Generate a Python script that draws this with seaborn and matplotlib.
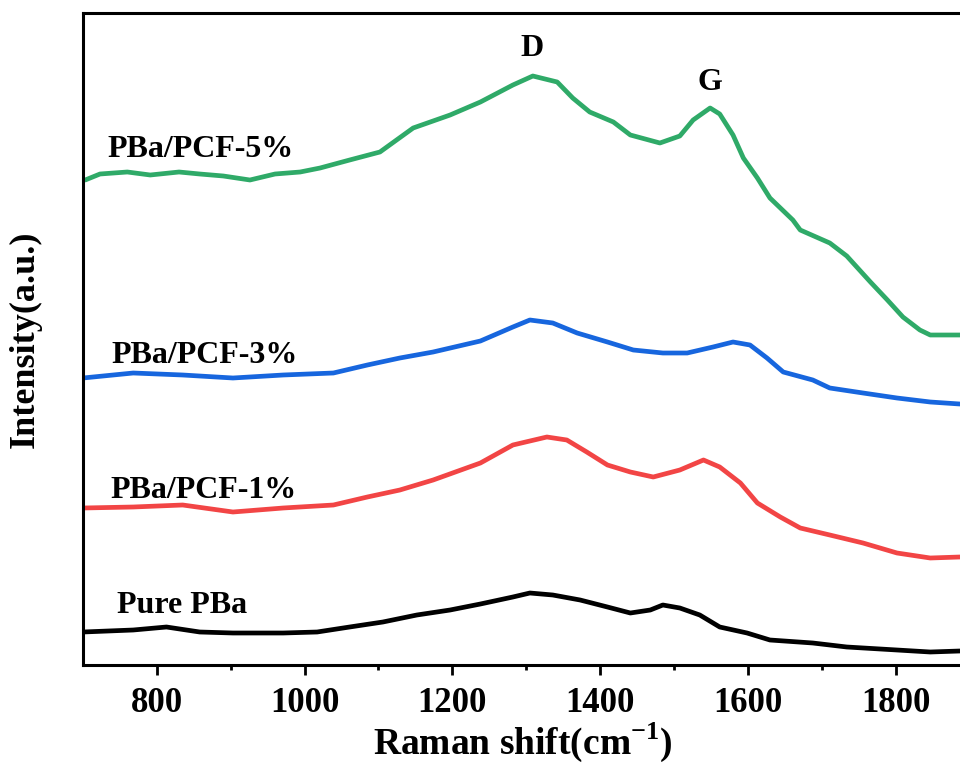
import seaborn as sns
import matplotlib.pyplot as plt
import pandas as pd

# Raman spectra (intensity in arbitrary units, curves already offset)
x_5 = [703, 723, 760, 791, 830, 858, 890, 926, 960, 994, 1021, 1061, 1102, 1147, 1197, 1238,
       1282, 1309, 1342, 1363, 1386, 1418, 1441, 1481, 1508, 1526, 1549, 1562, 1580, 1594,
       1613, 1630, 1661, 1671, 1711, 1734, 1766, 1789, 1810, 1833, 1847, 1887]
y_5 = [485, 491, 493, 490, 493, 491, 489, 485, 491, 493, 497, 505, 513, 537, 550, 563,
       580, 589, 583, 567, 553, 543, 530, 522, 529, 545, 557, 551, 530, 507,
       487, 467, 445, 435, 422, 409, 383, 365, 348, 335, 330, 330]

x_3 = [700, 768, 835, 903, 971, 1039, 1085, 1129, 1174, 1238, 1282, 1305, 1336, 1369, 1410,
       1445, 1485, 1518, 1553, 1580, 1603, 1626, 1648, 1688, 1711, 1756, 1802, 1847, 1887]
y_3 = [287, 292, 290, 287, 290, 292, 300, 307, 313, 324, 338, 345, 342, 332, 323,
       315, 312, 312, 318, 323, 320, 307, 293, 285, 277, 272, 267, 263, 261]

x_1 = [700, 768, 835, 903, 971, 1039, 1085, 1129, 1174, 1238, 1282, 1328, 1355, 1382, 1410,
       1441, 1472, 1508, 1540, 1562, 1590, 1613, 1644, 1671, 1711, 1756, 1802, 1847, 1887]
y_1 = [157, 158, 160, 153, 157, 160, 168, 175, 185, 202, 220, 228, 225, 213, 200,
       193, 188, 195, 205, 198, 182, 162, 148, 137, 130, 122, 112, 107, 108]

x_0 = [700, 768, 813, 858, 903, 971, 1017, 1061, 1106, 1152, 1197, 1238, 1282, 1305, 1336,
       1373, 1410, 1441, 1468, 1485, 1508, 1535, 1562, 1599, 1630, 1688, 1734, 1802, 1847, 1887]
y_0 = [33, 35, 38, 33, 32, 32, 33, 38, 43, 50, 55, 61, 68, 72, 70,
       65, 58, 52, 55, 60, 57, 50, 38, 32, 25, 22, 18, 15, 13, 14]

names = ["Pure PBa", "PBa/PCF-1%", "PBa/PCF-3%", "PBa/PCF-5%"]
colors = ["#000000", "#F24545", "#1766DE", "#2FAA68"]
label_pos = [(746, 52), (737, 167), (739, 302), (733, 508)]

frames = []
for n, xs, ys in zip(names, [x_0, x_1, x_3, x_5], [y_0, y_1, y_3, y_5]):
    frames.append(pd.DataFrame({"shift": xs, "intensity": ys, "sample": n}))
df = pd.concat(frames, ignore_index=True)

sns.set_style("ticks", {"axes.edgecolor": "black", "text.color": "black",
                        "axes.labelcolor": "black", "xtick.color": "black"})
plt.rcParams["font.family"] = ["Liberation Serif", "DejaVu Serif"]
plt.rcParams["font.weight"] = "bold"
plt.rcParams["mathtext.fontset"] = "custom"
plt.rcParams["mathtext.rm"] = "Liberation Serif:bold"
plt.rcParams["mathtext.bf"] = "Liberation Serif:bold"

fig = plt.figure(figsize=(9.6, 7.67), dpi=100)
ax = fig.add_axes([83 / 960, 102 / 767, 879 / 960, 652 / 767])

sns.lineplot(data=df, x="shift", y="intensity", hue="sample", palette=dict(zip(names, colors)),
             linewidth=3.4, legend=False, ax=ax, sort=True)

for n, (tx, ty) in zip(names, label_pos):
    ax.text(tx, ty, n, fontsize=23, fontweight="bold", va="baseline", ha="left", color="black")
ax.text(1308, 617, "D", fontsize=23, fontweight="bold", ha="center", va="center", color="black")
ax.text(1549, 583, "G", fontsize=23, fontweight="bold", ha="center", va="center", color="black")

ax.set_xlim(700, 1890)
ax.set_ylim(0, 652)
ax.set_yticks([])
ax.set_xticks([800, 1000, 1200, 1400, 1600, 1800])
ax.set_xticks([900, 1100, 1300, 1500, 1700], minor=True)
ax.tick_params(axis="x", which="major", length=7, width=2, labelsize=25, pad=9, colors="black")
ax.tick_params(axis="x", which="minor", length=3.5, width=2, colors="black")
for lab in ax.get_xticklabels():
    lab.set_fontweight("bold")
for s in ax.spines.values():
    s.set_linewidth(2.2)
    s.set_color("black")

ax.set_xlabel("Raman shift(cm$^{-1}$)", fontsize=27, fontweight="bold", labelpad=0, color="black")
ax.set_ylabel("Intensity(a.u.)", fontsize=26, fontweight="bold", labelpad=30, color="black")

fig.savefig("out.png", dpi=100, facecolor="white")
